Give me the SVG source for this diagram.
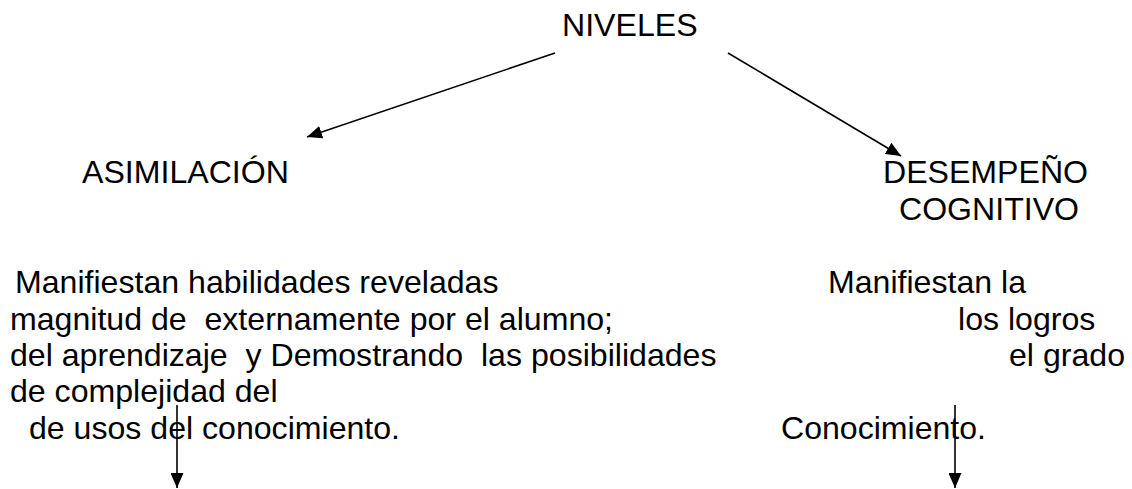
<svg xmlns="http://www.w3.org/2000/svg" width="1132" height="489" viewBox="0 0 1132 489">
<defs>
<marker id="ah" markerWidth="15" markerHeight="13" refX="15" refY="6.5" orient="auto" markerUnits="userSpaceOnUse"><path d="M0,0 L15,6.5 L0,13 z" fill="#000"/></marker>
</defs>
<style>
text{font-family:"Liberation Sans",Arial,sans-serif;font-size:32px;fill:#000;white-space:pre}
.c line{stroke:#000;stroke-width:1.6;marker-end:url(#ah)}
</style>
<rect width="1132" height="489" fill="#fff"/>
<g id="connectors" class="c">
<line x1="555" y1="53" x2="307" y2="137"/>
<line x1="728" y1="53" x2="901" y2="156"/>
<line x1="177" y1="405" x2="177" y2="488"/>
<line x1="955" y1="405" x2="955" y2="488"/>
</g>
<g id="niveles"><text x="562" y="36" textLength="135.6" lengthAdjust="spacingAndGlyphs">NIVELES</text></g>
<g id="asimilacion"><text x="82" y="183" textLength="206.9" lengthAdjust="spacingAndGlyphs">ASIMILACIÓN</text></g>
<g id="desempeno">
<text x="883" y="183" textLength="205" lengthAdjust="spacingAndGlyphs">DESEMPEÑO</text>
<text x="899" y="219.5" textLength="180" lengthAdjust="spacingAndGlyphs">COGNITIVO</text>
</g>
<g id="asimilacion-desc">
<text x="15" y="293" textLength="483.5" lengthAdjust="spacingAndGlyphs">Manifiestan habilidades reveladas</text>
<text x="10" y="330" textLength="603" lengthAdjust="spacingAndGlyphs">magnitud de  externamente por el alumno;</text>
<text x="10" y="366" textLength="706.5" lengthAdjust="spacingAndGlyphs">del aprendizaje  y Demostrando  las posibilidades</text>
<text x="10" y="402" textLength="267.6" lengthAdjust="spacingAndGlyphs">de complejidad del</text>
<text x="29" y="439" textLength="371" lengthAdjust="spacingAndGlyphs">de usos del conocimiento.</text>
</g>
<g id="desempeno-desc">
<text x="828" y="293" textLength="198" lengthAdjust="spacingAndGlyphs">Manifiestan la</text>
<text x="958" y="330" textLength="137.4" lengthAdjust="spacingAndGlyphs">los logros</text>
<text x="1009" y="366" textLength="116" lengthAdjust="spacingAndGlyphs">el grado</text>
<text x="781" y="439" textLength="205" lengthAdjust="spacingAndGlyphs">Conocimiento.</text>
</g>
</svg>
